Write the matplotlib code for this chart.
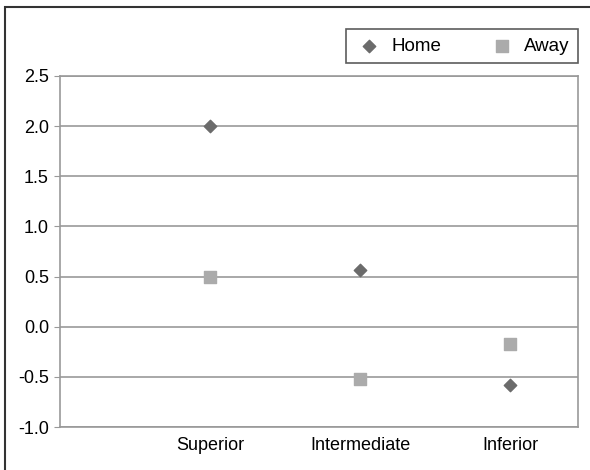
import matplotlib.pyplot as plt
from matplotlib.patches import Rectangle
from matplotlib import font_manager

# --- Data ---
categories = ['Superior', 'Intermediate', 'Inferior']
homeVals = [2.0, 0.57, -0.58]
awayVals = [0.5, -0.52, -0.17]
yTicks = [-1.0, -0.5, 0.0, 0.5, 1.0, 1.5, 2.0, 2.5]

names = {f.name for f in font_manager.fontManager.ttflist}
family = 'Liberation Sans Narrow' if 'Liberation Sans Narrow' in names else 'Liberation Sans'
plt.rcParams['font.family'] = [family, 'DejaVu Sans']

fig = plt.figure(figsize=(5.9, 4.7), dpi=100)
ax = fig.add_axes([60/590, 43/470, 518/590, 351/470])

xPos = [1, 2, 3]
ax.scatter(xPos, homeVals, marker='D', s=40, color='#6b6b6b', label='Home', zorder=3)
ax.scatter(xPos, awayVals, marker='s', s=70, color='#ababab', label='Away', zorder=3)

ax.set_xlim(0, 3.45)
ax.set_ylim(-1.0, 2.5)
ax.set_yticks(yTicks)
ax.set_yticklabels([f'{v:.1f}' for v in yTicks], fontsize=13)
ax.set_xticks(xPos)
ax.set_xticklabels(categories, fontsize=13)
ax.tick_params(axis='x', length=0, pad=7)
ax.tick_params(axis='y', length=4, color='#999999', pad=4)
ax.grid(axis='y', color='#9a9a9a', lw=1.2)
ax.set_axisbelow(True)
for sp in ax.spines.values():
    sp.set_color('#999999'); sp.set_linewidth(1.2)

leg = fig.legend(loc='upper right', bbox_to_anchor=(578/590, 1 - 29/470), ncol=2,
                 frameon=True, fancybox=False, edgecolor='#333333', fontsize=13.5,
                 columnspacing=2.4, handletextpad=0.4, borderpad=0.45, handlelength=1.6,
                 borderaxespad=0)
leg.get_frame().set_linewidth(1.2)

# outer frame, only left and top visible
fig.patches.append(Rectangle((5/590, -0.1), 1.2, 1 - 7/470 + 0.1, transform=fig.transFigure,
                             fill=False, edgecolor='#333333', lw=1.5))

plt.savefig('out.png', dpi=100)
